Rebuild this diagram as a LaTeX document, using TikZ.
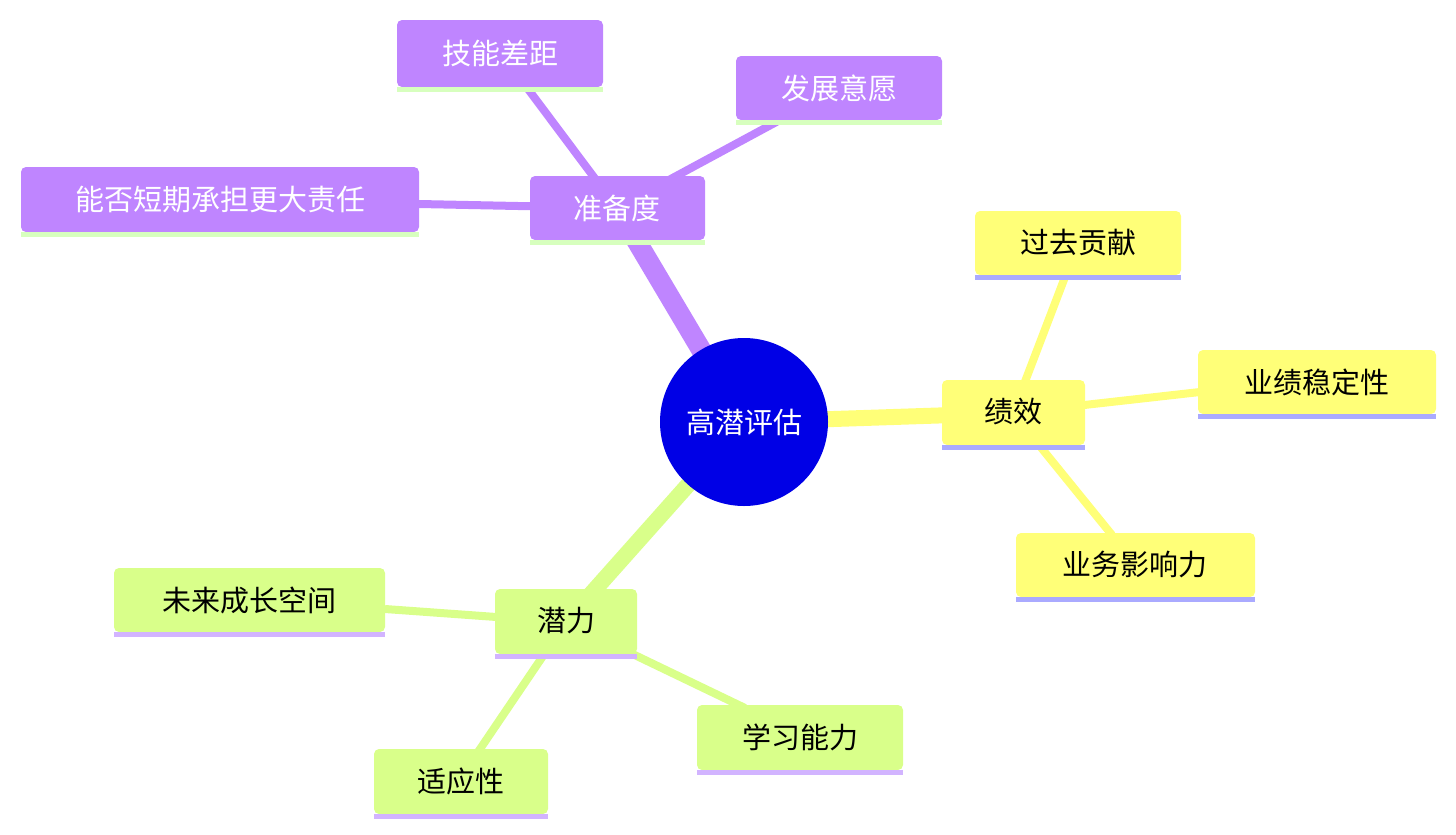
\documentclass[tikz,border=0pt]{standalone}
\usepackage{fontspec}
\newfontfamily\cjk{Noto Sans CJK SC}
\definecolor{pur}{RGB}{191,133,255}
\definecolor{yel}{RGB}{255,255,120}
\definecolor{grn}{RGB}{217,255,138}
\definecolor{lav}{RGB}{170,170,255}
\definecolor{lgrn}{RGB}{215,255,190}
\definecolor{llav}{RGB}{210,180,255}
\definecolor{cblue}{RGB}{0,0,230}
\begin{document}
\begin{tikzpicture}[x=1pt,y=-1pt,
  txt/.style={font=\cjk\fontsize{29}{34}\selectfont},
  edge/.style={line width=8pt},
]
\useasboundingbox (0,0) rectangle (1456,835);
\newcommand{\bx}[8]{% name, x1,y1,x2,y2, fill, underline, text/textcolor
  \fill[#6,rounded corners=5pt] (#2,#3) rectangle (#4,#5);
  \fill[#7] (#2,#5) rectangle (#4,#5+5);
  \node[txt,#8] (#1) at ({(#2+#4)/2},{(#3+#5)/2}) {};
}
% edges
\coordinate (c) at (744,422);
\draw[pur,line width=20pt] (c) -- (617,208);
\draw[yel,line width=16pt] (c) -- (1013,413);
\draw[grn,line width=16pt] (c) -- (566,622);
\draw[pur,edge] (617,208) -- (525,85);
\draw[pur,edge] (617,208) -- (780,120);
\draw[pur,edge] (617,208) -- (419,204);
\draw[yel,edge] (1013,413) -- (1065,277);
\draw[yel,edge] (1013,413) -- (1200,392);
\draw[yel,edge] (1013,413) -- (1112,535);
\draw[grn,edge] (566,622) -- (385,609);
\draw[grn,edge] (566,622) -- (745,708);
\draw[grn,edge] (566,622) -- (478,752);
% center
\fill[cblue] (c) circle (84);
\node[txt,white] (center) at (c) {高潜评估};
% purple
\fill[pur,rounded corners=5pt] (530,176) rectangle (705,240); \fill[lgrn] (530,240) rectangle (705,245);
\node[txt,white] (zbd) at (617,208) {准备度};
\fill[pur,rounded corners=5pt] (397,20) rectangle (603,87); \fill[lgrn] (397,87) rectangle (603,92);
\node[txt,white] (jn) at (500,53) {技能差距};
\fill[pur,rounded corners=5pt] (736,56) rectangle (942,120); \fill[lgrn] (736,120) rectangle (942,125);
\node[txt,white] (fz) at (839,88) {发展意愿};
\fill[pur,rounded corners=5pt] (21,167) rectangle (419,232); \fill[lgrn] (21,232) rectangle (419,237);
\node[txt,white] (nf) at (220,200) {能否短期承担更大责任};
% yellow
\fill[yel,rounded corners=5pt] (942,380) rectangle (1085,445); \fill[lav] (942,445) rectangle (1085,450);
\node[txt] (jx) at (1013,412) {绩效};
\fill[yel,rounded corners=5pt] (975,211) rectangle (1181,275); \fill[lav] (975,275) rectangle (1181,280);
\node[txt] (gq) at (1078,243) {过去贡献};
\fill[yel,rounded corners=5pt] (1198,350) rectangle (1436,414); \fill[lav] (1198,414) rectangle (1436,419);
\node[txt] (yj) at (1317,382) {业绩稳定性};
\fill[yel,rounded corners=5pt] (1016,533) rectangle (1255,597); \fill[lav] (1016,597) rectangle (1255,602);
\node[txt] (yw) at (1135,565) {业务影响力};
% green
\fill[grn,rounded corners=5pt] (495,589) rectangle (637,654); \fill[llav] (495,654) rectangle (637,659);
\node[txt] (ql) at (566,621) {潜力};
\fill[grn,rounded corners=5pt] (114,568) rectangle (385,632); \fill[llav] (114,632) rectangle (385,637);
\node[txt] (wl) at (249,600) {未来成长空间};
\fill[grn,rounded corners=5pt] (697,705) rectangle (903,770); \fill[llav] (697,770) rectangle (903,775);
\node[txt] (xx) at (800,737) {学习能力};
\fill[grn,rounded corners=5pt] (374,749) rectangle (548,814); \fill[llav] (374,814) rectangle (548,819);
\node[txt] (sy) at (461,781) {适应性};
\end{tikzpicture}
\end{document}
